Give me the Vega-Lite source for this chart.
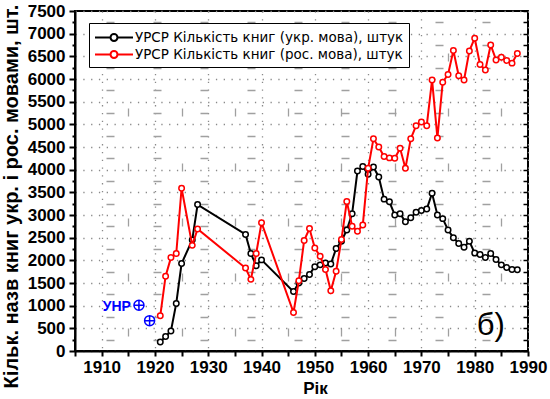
{
  "$schema": "https://vega.github.io/schema/vega-lite/v6.json",
  "width": 453,
  "height": 340,
  "autosize": {"type": "none"},
  "padding": {"left": 75, "top": 11, "right": 22, "bottom": 48},
  "background": "white",
  "config": {
    "view": {"stroke": "black", "strokeWidth": 2},
    "font": "Liberation Sans"
  },
  "datasets": {
    "books": [
      {"series": "УРСР Кількість книг (укр. мова), штук", "year": 1921, "value": 200},
      {"series": "УРСР Кількість книг (укр. мова), штук", "year": 1922, "value": 320},
      {"series": "УРСР Кількість книг (укр. мова), штук", "year": 1923, "value": 440},
      {"series": "УРСР Кількість книг (укр. мова), штук", "year": 1924, "value": 1050},
      {"series": "УРСР Кількість книг (укр. мова), штук", "year": 1925, "value": 1930},
      {"series": "УРСР Кількість книг (укр. мова), штук", "year": 1927, "value": 2450},
      {"series": "УРСР Кількість книг (укр. мова), штук", "year": 1928, "value": 3230},
      {"series": "УРСР Кількість книг (укр. мова), штук", "year": 1937, "value": 2570},
      {"series": "УРСР Кількість книг (укр. мова), штук", "year": 1938, "value": 2150},
      {"series": "УРСР Кількість книг (укр. мова), штук", "year": 1939, "value": 1880},
      {"series": "УРСР Кількість книг (укр. мова), штук", "year": 1940, "value": 2010},
      {"series": "УРСР Кількість книг (укр. мова), штук", "year": 1946, "value": 1310},
      {"series": "УРСР Кількість книг (укр. мова), штук", "year": 1947, "value": 1500},
      {"series": "УРСР Кількість книг (укр. мова), штук", "year": 1948, "value": 1600},
      {"series": "УРСР Кількість книг (укр. мова), штук", "year": 1949, "value": 1690},
      {"series": "УРСР Кількість книг (укр. мова), штук", "year": 1950, "value": 1860},
      {"series": "УРСР Кількість книг (укр. мова), штук", "year": 1951, "value": 1900},
      {"series": "УРСР Кількість книг (укр. мова), штук", "year": 1952, "value": 1940},
      {"series": "УРСР Кількість книг (укр. мова), штук", "year": 1953, "value": 1920},
      {"series": "УРСР Кількість книг (укр. мова), штук", "year": 1954, "value": 2260},
      {"series": "УРСР Кількість книг (укр. мова), штук", "year": 1955, "value": 2420},
      {"series": "УРСР Кількість книг (укр. мова), штук", "year": 1956, "value": 2670},
      {"series": "УРСР Кількість книг (укр. мова), штук", "year": 1957, "value": 3030},
      {"series": "УРСР Кількість книг (укр. мова), штук", "year": 1958, "value": 3970},
      {"series": "УРСР Кількість книг (укр. мова), штук", "year": 1959, "value": 4070},
      {"series": "УРСР Кількість книг (укр. мова), штук", "year": 1960, "value": 3900},
      {"series": "УРСР Кількість книг (укр. мова), штук", "year": 1961, "value": 4060},
      {"series": "УРСР Кількість книг (укр. мова), штук", "year": 1962, "value": 3840},
      {"series": "УРСР Кількість книг (укр. мова), штук", "year": 1963, "value": 3350},
      {"series": "УРСР Кількість книг (укр. мова), штук", "year": 1964, "value": 3290},
      {"series": "УРСР Кількість книг (укр. мова), штук", "year": 1965, "value": 3000},
      {"series": "УРСР Кількість книг (укр. мова), штук", "year": 1966, "value": 3030},
      {"series": "УРСР Кількість книг (укр. мова), штук", "year": 1967, "value": 2850},
      {"series": "УРСР Кількість книг (укр. мова), штук", "year": 1968, "value": 2940},
      {"series": "УРСР Кількість книг (укр. мова), штук", "year": 1969, "value": 3060},
      {"series": "УРСР Кількість книг (укр. мова), штук", "year": 1970, "value": 3100},
      {"series": "УРСР Кількість книг (укр. мова), штук", "year": 1971, "value": 3130},
      {"series": "УРСР Кількість книг (укр. мова), штук", "year": 1972, "value": 3480},
      {"series": "УРСР Кількість книг (укр. мова), штук", "year": 1973, "value": 3000},
      {"series": "УРСР Кількість книг (укр. мова), штук", "year": 1974, "value": 2920},
      {"series": "УРСР Кількість книг (укр. мова), штук", "year": 1975, "value": 2670},
      {"series": "УРСР Кількість книг (укр. мова), штук", "year": 1976, "value": 2500},
      {"series": "УРСР Кількість книг (укр. мова), штук", "year": 1977, "value": 2370},
      {"series": "УРСР Кількість книг (укр. мова), штук", "year": 1978, "value": 2290},
      {"series": "УРСР Кількість книг (укр. мова), штук", "year": 1979, "value": 2420},
      {"series": "УРСР Кількість книг (укр. мова), штук", "year": 1980, "value": 2160},
      {"series": "УРСР Кількість книг (укр. мова), штук", "year": 1981, "value": 2130},
      {"series": "УРСР Кількість книг (укр. мова), штук", "year": 1982, "value": 2060},
      {"series": "УРСР Кількість книг (укр. мова), штук", "year": 1983, "value": 2150},
      {"series": "УРСР Кількість книг (укр. мова), штук", "year": 1984, "value": 2020},
      {"series": "УРСР Кількість книг (укр. мова), штук", "year": 1985, "value": 1900},
      {"series": "УРСР Кількість книг (укр. мова), штук", "year": 1986, "value": 1840},
      {"series": "УРСР Кількість книг (укр. мова), штук", "year": 1987, "value": 1800},
      {"series": "УРСР Кількість книг (укр. мова), штук", "year": 1988, "value": 1790},
      {"series": "УРСР Кількість книг (рос. мова), штук", "year": 1921, "value": 780},
      {"series": "УРСР Кількість книг (рос. мова), штук", "year": 1922, "value": 1650},
      {"series": "УРСР Кількість книг (рос. мова), штук", "year": 1923, "value": 2060},
      {"series": "УРСР Кількість книг (рос. мова), штук", "year": 1924, "value": 2150},
      {"series": "УРСР Кількість книг (рос. мова), штук", "year": 1925, "value": 3590},
      {"series": "УРСР Кількість книг (рос. мова), штук", "year": 1927, "value": 2330},
      {"series": "УРСР Кількість книг (рос. мова), штук", "year": 1928, "value": 2690},
      {"series": "УРСР Кількість книг (рос. мова), штук", "year": 1937, "value": 1830},
      {"series": "УРСР Кількість книг (рос. мова), штук", "year": 1938, "value": 1580},
      {"series": "УРСР Кількість книг (рос. мова), штук", "year": 1939, "value": 2150},
      {"series": "УРСР Кількість книг (рос. мова), штук", "year": 1940, "value": 2830},
      {"series": "УРСР Кількість книг (рос. мова), штук", "year": 1946, "value": 850},
      {"series": "УРСР Кількість книг (рос. мова), штук", "year": 1947, "value": 1550},
      {"series": "УРСР Кількість книг (рос. мова), штук", "year": 1948, "value": 2440},
      {"series": "УРСР Кількість книг (рос. мова), штук", "year": 1949, "value": 2700},
      {"series": "УРСР Кількість книг (рос. мова), штук", "year": 1950, "value": 2270},
      {"series": "УРСР Кількість книг (рос. мова), штук", "year": 1951, "value": 2090},
      {"series": "УРСР Кількість книг (рос. мова), штук", "year": 1952, "value": 1800},
      {"series": "УРСР Кількість книг (рос. мова), штук", "year": 1953, "value": 1330},
      {"series": "УРСР Кількість книг (рос. мова), штук", "year": 1954, "value": 1760},
      {"series": "УРСР Кількість книг (рос. мова), штук", "year": 1955, "value": 2460},
      {"series": "УРСР Кількість книг (рос. мова), штук", "year": 1956, "value": 3300},
      {"series": "УРСР Кількість книг (рос. мова), штук", "year": 1957, "value": 2750},
      {"series": "УРСР Кількість книг (рос. мова), штук", "year": 1958, "value": 2640},
      {"series": "УРСР Кількість книг (рос. мова), штук", "year": 1959, "value": 2780},
      {"series": "УРСР Кількість книг (рос. мова), штук", "year": 1960, "value": 4030},
      {"series": "УРСР Кількість книг (рос. мова), штук", "year": 1961, "value": 4680},
      {"series": "УРСР Кількість книг (рос. мова), штук", "year": 1962, "value": 4500},
      {"series": "УРСР Кількість книг (рос. мова), штук", "year": 1963, "value": 4290},
      {"series": "УРСР Кількість книг (рос. мова), штук", "year": 1964, "value": 4260},
      {"series": "УРСР Кількість книг (рос. мова), штук", "year": 1965, "value": 4250},
      {"series": "УРСР Кількість книг (рос. мова), штук", "year": 1966, "value": 4470},
      {"series": "УРСР Кількість книг (рос. мова), штук", "year": 1967, "value": 4030},
      {"series": "УРСР Кількість книг (рос. мова), штук", "year": 1968, "value": 4680},
      {"series": "УРСР Кількість книг (рос. мова), штук", "year": 1969, "value": 4970},
      {"series": "УРСР Кількість книг (рос. мова), штук", "year": 1970, "value": 5050},
      {"series": "УРСР Кількість книг (рос. мова), штук", "year": 1971, "value": 4970},
      {"series": "УРСР Кількість книг (рос. мова), штук", "year": 1972, "value": 5980},
      {"series": "УРСР Кількість книг (рос. мова), штук", "year": 1973, "value": 4700},
      {"series": "УРСР Кількість книг (рос. мова), штук", "year": 1974, "value": 5930},
      {"series": "УРСР Кількість книг (рос. мова), штук", "year": 1975, "value": 6100},
      {"series": "УРСР Кількість книг (рос. мова), штук", "year": 1976, "value": 6630},
      {"series": "УРСР Кількість книг (рос. мова), штук", "year": 1977, "value": 6070},
      {"series": "УРСР Кількість книг (рос. мова), штук", "year": 1978, "value": 5980},
      {"series": "УРСР Кількість книг (рос. мова), штук", "year": 1979, "value": 6620},
      {"series": "УРСР Кількість книг (рос. мова), штук", "year": 1980, "value": 6900},
      {"series": "УРСР Кількість книг (рос. мова), штук", "year": 1981, "value": 6320},
      {"series": "УРСР Кількість книг (рос. мова), штук", "year": 1982, "value": 6200},
      {"series": "УРСР Кількість книг (рос. мова), штук", "year": 1983, "value": 6750},
      {"series": "УРСР Кількість книг (рос. мова), штук", "year": 1984, "value": 6420},
      {"series": "УРСР Кількість книг (рос. мова), штук", "year": 1985, "value": 6480},
      {"series": "УРСР Кількість книг (рос. мова), штук", "year": 1986, "value": 6410},
      {"series": "УРСР Кількість книг (рос. мова), штук", "year": 1987, "value": 6350},
      {"series": "УРСР Кількість книг (рос. мова), штук", "year": 1988, "value": 6560}
    ],
    "unr": [
      {"year": 1917, "value": 1010, "label": "УНР"},
      {"year": 1919, "value": 670, "label": ""}
    ],
    "note": [
      {"year": 1983, "value": 560, "label": "б)"}
    ]
  },
  "resolve": {"axis": {"x": "independent", "y": "independent"}},
  "layer": [
    {
      "data": {"name": "books"},
      "transform": [{"filter": "indexof(datum.series, 'укр') >= 0"}],
      "mark": {"type": "line", "strokeWidth": 2},
      "encoding": {
        "x": {
          "field": "year", "type": "quantitative",
          "scale": {"domain": [1905, 1990], "nice": false, "zero": false},
          "axis": {
            "orient": "bottom",
            "values": [1910, 1920, 1930, 1940, 1950, 1960, 1970, 1980, 1990],
            "format": "d",
            "labelFont": "Liberation Sans", "labelFontSize": 17, "labelFontWeight": "bold", "labelColor": "black",
            "labelPadding": 3, "labelFlush": false, "labelOverlap": false,
            "grid": true, "gridColor": "#8a8a8a", "gridWidth": 1.3, "gridDash": [1.3, 6.5], "gridOpacity": 1,
            "tickSize": 5, "tickWidth": 2, "tickColor": "black",
            "domainColor": "black", "domainWidth": 2,
            "title": "Рік", "titleFont": "Liberation Sans", "titleFontSize": 17, "titleFontWeight": "bold", "titleColor": "black",
            "titleX": 240, "titleY": 37, "titleAlign": "center", "titleBaseline": "middle"
          }
        },
        "y": {
          "field": "value", "type": "quantitative",
          "scale": {"domain": [0, 7500], "nice": false},
          "axis": {
            "orient": "left",
            "values": [0, 500, 1000, 1500, 2000, 2500, 3000, 3500, 4000, 4500, 5000, 5500, 6000, 6500, 7000, 7500],
            "format": "d",
            "labelFont": "Liberation Sans", "labelFontSize": 17, "labelFontWeight": "bold", "labelColor": "black",
            "labelPadding": 4, "labelFlush": false, "labelOverlap": false,
            "grid": true, "gridColor": "#8a8a8a", "gridWidth": 1.3, "gridDash": [1.3, 6.5], "gridOpacity": 1,
            "tickSize": 6, "tickWidth": 2, "tickColor": "black",
            "domainColor": "black", "domainWidth": 2,
            "title": "Кільк. назв книг укр. і рос. мовами, шт.",
            "titleFont": "Liberation Sans", "titleFontSize": 20, "titleFontWeight": "bold", "titleColor": "black",
            "titleX": -64, "titleY": 185, "titleAngle": -90, "titleAlign": "center", "titleBaseline": "middle"
          }
        },
        "color": {
          "field": "series", "type": "nominal",
          "scale": {"domain": ["УРСР Кількість книг (укр. мова), штук", "УРСР Кількість книг (рос. мова), штук"], "range": ["#000000", "#ff0000"]},
          "legend": {
            "title": null,
            "orient": "none", "legendX": 14, "legendY": 12,
            "strokeColor": "black", "fillColor": "white", "padding": 5, "cornerRadius": 0,
            "labelFont": "DejaVu Sans", "labelFontSize": 13.5, "labelColor": "black", "labelLimit": 400,
            "symbolType": "M-1,0 L0.825,0 M1.645,0 L3.47,0 M1.645,0 A0.41,0.41 0 1,1 0.825,0 A0.41,0.41 0 1,1 1.645,0",
            "symbolSize": 289, "symbolStrokeWidth": 2, "symbolFillColor": "transparent",
            "labelOffset": 22, "rowPadding": 0
          }
        }
      }
    },
    {
      "data": {"name": "books"},
      "transform": [{"filter": "indexof(datum.series, 'укр') >= 0"}],
      "mark": {"type": "point", "shape": "circle", "filled": false, "fill": "white", "fillOpacity": 1, "size": 30, "strokeWidth": 1.5, "opacity": 1},
      "encoding": {
        "x": {
          "field": "year", "type": "quantitative",
          "axis": {
            "orient": "bottom",
            "values": [1905, 1915, 1925, 1935, 1945, 1955, 1965, 1975, 1985],
            "labels": false, "domain": false, "title": null,
            "grid": true, "gridColor": "#a0a0a0", "gridWidth": 1.3, "gridDash": [8, 47], "gridDashOffset": 13, "gridOpacity": 1,
            "tickSize": 5, "tickWidth": 2, "tickColor": "black"
          }
        },
        "y": {
          "field": "value", "type": "quantitative",
          "axis": {
            "orient": "left",
            "values": [250, 750, 1250, 1750, 2250, 2750, 3250, 3750, 4250, 4750, 5250, 5750, 6250, 6750, 7250],
            "labels": false, "domain": false, "title": null,
            "grid": true, "gridColor": "#a0a0a0", "gridWidth": 1.3, "gridDash": [8, 39], "gridDashOffset": 16, "gridOpacity": 1,
            "tickSize": 3, "tickWidth": 2, "tickColor": "black"
          }
        },
        "color": {"field": "series", "type": "nominal"}
      }
    },
    {
      "data": {"name": "books"},
      "transform": [{"filter": "indexof(datum.series, 'рос') >= 0"}],
      "mark": {"type": "line", "strokeWidth": 2},
      "encoding": {
        "x": {"field": "year", "type": "quantitative", "axis": null},
        "y": {
          "field": "value", "type": "quantitative",
          "axis": {
            "orient": "right", "offset": -5,
            "values": [0, 250, 500, 750, 1000, 1250, 1500, 1750, 2000, 2250, 2500, 2750, 3000, 3250, 3500, 3750, 4000, 4250, 4500, 4750, 5000, 5250, 5500, 5750, 6000, 6250, 6500, 6750, 7000, 7250, 7500],
            "labels": false, "grid": false, "domain": false, "title": null,
            "ticks": true, "tickColor": "black", "tickWidth": 1.5, "tickSize": 4
          }
        },
        "color": {"field": "series", "type": "nominal"}
      }
    },
    {
      "data": {"name": "books"},
      "transform": [{"filter": "indexof(datum.series, 'рос') >= 0"}],
      "mark": {"type": "point", "shape": "circle", "filled": false, "fill": "white", "fillOpacity": 1, "size": 30, "strokeWidth": 1.5, "opacity": 1},
      "encoding": {
        "x": {"field": "year", "type": "quantitative", "axis": null},
        "y": {"field": "value", "type": "quantitative", "axis": null},
        "color": {"field": "series", "type": "nominal"}
      }
    },
    {
      "data": {"name": "unr"},
      "mark": {"type": "point", "shape": "M-1,0 A1,1 0 1,1 1,0 A1,1 0 1,1 -1,0 M-1,0 L1,0 M0,-1 L0,1", "filled": false, "size": 100, "stroke": "#0000ff", "strokeWidth": 1.5, "opacity": 1},
      "encoding": {
        "x": {"field": "year", "type": "quantitative", "axis": null},
        "y": {"field": "value", "type": "quantitative", "axis": null}
      }
    },
    {
      "data": {"name": "unr"},
      "mark": {"type": "text", "align": "right", "baseline": "middle", "dx": -8, "dy": 2, "font": "Liberation Sans", "fontSize": 14, "fontWeight": "bold", "color": "#0000ff"},
      "encoding": {
        "x": {"field": "year", "type": "quantitative", "axis": null},
        "y": {"field": "value", "type": "quantitative", "axis": null},
        "text": {"field": "label"}
      }
    },
    {
      "data": {"name": "note"},
      "mark": {"type": "text", "align": "center", "baseline": "middle", "font": "Liberation Sans", "fontSize": 31, "color": "black"},
      "encoding": {
        "x": {"field": "year", "type": "quantitative", "axis": null},
        "y": {"field": "value", "type": "quantitative", "axis": null},
        "text": {"field": "label"}
      }
    }
  ]
}
